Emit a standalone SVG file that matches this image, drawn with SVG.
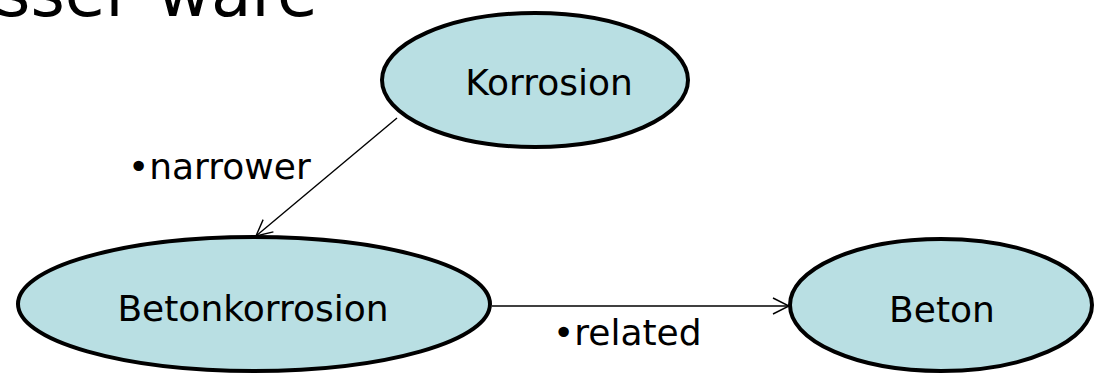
<svg xmlns="http://www.w3.org/2000/svg" width="1097" height="374" viewBox="0 0 1097 374">
<style>
  .node ellipse { fill: #B9DFE3; stroke: #000; stroke-width: 4; }
  text { font-family: "DejaVu Sans", Verdana, sans-serif; fill: #000; }
  .lbl { font-size: 36px; }
  .title { font-size: 66px; }
  .edge { stroke: #000; stroke-width: 1.4; fill: none; }
</style>
<defs>
  <marker id="arr" markerUnits="userSpaceOnUse" markerWidth="20" markerHeight="20" viewBox="-1 -10 20 20" refX="16" refY="0" orient="auto" overflow="visible">
    <path d="M0,-8 L16,0 L0,8" fill="none" stroke="#000" stroke-width="1.4"/>
  </marker>
</defs>
<text class="title" x="-4" y="16">sser <tspan x="157">ware</tspan></text>
<g id="connectors">
  <line class="edge" x1="397" y1="118" x2="256" y2="236" marker-end="url(#arr)"/>
  <line class="edge" x1="492" y1="306" x2="789" y2="306" marker-end="url(#arr)"/>
  <text class="lbl" x="128" y="179">•narrower</text>
  <text class="lbl" x="553" y="345">•related</text>
</g>
<g id="node-korrosion" class="node">
  <ellipse cx="535" cy="80" rx="153" ry="67"/>
  <text class="lbl" x="549" y="95" text-anchor="middle">Korrosion</text>
</g>
<g id="node-betonkorrosion" class="node">
  <ellipse cx="254" cy="304" rx="236" ry="67"/>
  <text class="lbl" x="253" y="321" text-anchor="middle">Betonkorrosion</text>
</g>
<g id="node-beton" class="node">
  <ellipse cx="941" cy="305" rx="151" ry="66"/>
  <text class="lbl" x="942" y="322" text-anchor="middle">Beton</text>
</g>
</svg>
